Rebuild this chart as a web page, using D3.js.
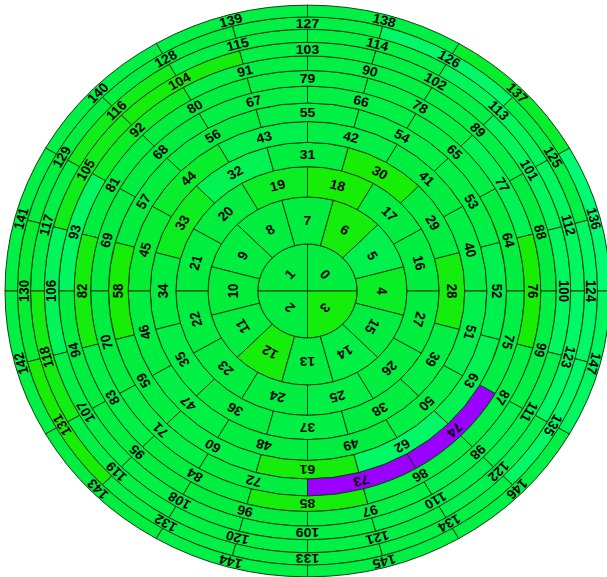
<!DOCTYPE html>
<html>
<head>
<meta charset="utf-8">
<script src="https://cdn.jsdelivr.net/npm/d3@7"></script>
<style>
  html, body { margin: 0; padding: 0; background: #ffffff; }
  svg { display: block; }
</style>
</head>
<body>
<svg id="chart" width="607" height="577"></svg>
<script>
// Number of cells in each ring, from the centre outwards
const ringCounts = [4, 12, 12, 12, 12, 12, 12, 12, 12, 12, 12, 12, 12];

// Colour level of every cell, ring by ring (0 = yellow-green, 0.5 = green, 1 = spring green)
const ring0  = [0.5, 0.5, 0.5, 0.1];
const ring1  = [0.3, 0.6, 0.1, 0.5, 0.5, 0.5, 0.45, 0.5, 0.1, 0.5, 0.55, 0.5];
const ring2  = [0.5, 0.5, 0.05, 0.3, 0.5, 0.5, 0.5, 0.5, 0.5, 0.55, 0.5, 0.5];
const ring3  = [0.1, 0.5, 0.05, 0.5, 0.65, 0.25, 0.5, 0.55, 0.5, 0.55, 0.5, 0.55];
const ring4  = [0.55, 0.5, 0.55, 0.6, 0.35, 0.4, 0.5, 0.55, 0.5, 0.5, 0.55, 0.6];
const ring5  = [0.6, 0.55, 0.55, 0.55, 0.5, 0.5, 0.05, 0.5, 0.55, 0.1, 0.8, 0.65];
const ring6  = [0.5, 0.55, 0.55, 0.55, 0.5, 0.5, 0.5, 0.55, 0.5, 0.5, 0.5, 0.55];
const ring7  = [0.05, 0.65, 0.55, 0.55, 0.5, 0.5, 0.1, 0.55, 0.5, 0.1, 0.55, 0.55];
const ring8  = [0.5, 0.55, 0.55, 0.55, 0.3, 0.75, 0.5, 0.5, 0.5, 0.55, 0.6, 0.55];
const ring9  = [0.75, 0.7, 0.55, 0.55, 0.1, 0.2, 0.7, 0.55, 0.55, 0.55, 0.6, 0.6];
const ring10 = [0.75, 0.7, 0.55, 0.55, 0.2, 0.55, 0.15, 0.55, 0.55, 0.55, 0.6, 0.8];
const ring11 = [0.8, 0.55, 0.8, 0.55, 0.5, 0.5, 0.4, 0.05, 0.55, 0.55, 0.55, 0.8];
const ring12 = [0.9, 0.35, 0.55, 0.55, 0.55, 0.55, 0.55, 0.5, 0.55, 0.55, 0.55, 0.75];
const ringLevels = [ring0, ring1, ring2, ring3, ring4, ring5, ring6, ring7,
                    ring8, ring9, ring10, ring11, ring12];

// Cells flagged in violet
const flaggedCells = [73, 74];

const cx = 307.5, cy = 291;
const outerR = 302.5;
const yScale = 0.945;   // the disc is drawn slightly flattened vertically

const color = d3.scaleLinear()
  .domain([0, 0.5, 1])
  .range(["#1aee00", "#00ee40", "#00ff80"])
  .interpolate(d3.interpolateRgb);
const flagColor = "#9900ff";

// Equal-area rings: radius grows with the square root of the cell count inside it
const total = d3.sum(ringCounts);
const cumulative = d3.cumsum(ringCounts);
const rScale = d3.scaleSqrt().domain([0, total]).range([0, outerR]);

const deg = Math.PI / 180;
const cells = [];
let id = 0;
ringCounts.forEach((n, k) => {
  const step = 360 / n;
  // rings alternate between cells centred on the axes and cells starting on them
  const offset = (k === 0) ? 0 : (k % 2 === 1 ? -step / 2 : 0);
  const rIn = k === 0 ? 0 : rScale(cumulative[k - 1]);
  const rOut = rScale(cumulative[k]);
  for (let i = 0; i < n; i++) {
    const t0 = offset + i * step;          // counter-clockwise from 3 o'clock
    const t1 = t0 + step;
    cells.push({
      id: id,
      ring: k,
      level: ringLevels[k][i],
      innerRadius: rIn,
      outerRadius: rOut,
      startAngle: (90 - t1) * deg,          // d3 angles: clockwise from 12 o'clock
      endAngle: (90 - t0) * deg
    });
    id++;
  }
});

const arc = d3.arc();

const svg = d3.select("#chart");
const g = svg.append("g")
  .attr("transform", `translate(${cx},${cy}) scale(1,${yScale})`);

g.selectAll("path.cell")
  .data(cells)
  .join("path")
  .attr("class", "cell")
  .attr("d", arc)
  .attr("fill", d => flaggedCells.includes(d.id) ? flagColor : color(d.level))
  .attr("stroke", "#0c3a0c")
  .attr("stroke-width", 1);

g.selectAll("text.lbl")
  .data(cells)
  .join("text")
  .attr("class", "lbl")
  .attr("transform", d => {
    const [x, y] = arc.centroid(d);
    const mid = (d.startAngle + d.endAngle) / 2 / deg;
    return `translate(${x},${y}) rotate(${mid})`;
  })
  .attr("text-anchor", "middle")
  .attr("dominant-baseline", "central")
  .attr("font-family", "'Liberation Sans', Arial, sans-serif")
  .attr("font-weight", "bold")
  .attr("font-size", 14)
  .attr("fill", "#000")
  .text(d => d.id);
</script>
</body>
</html>
